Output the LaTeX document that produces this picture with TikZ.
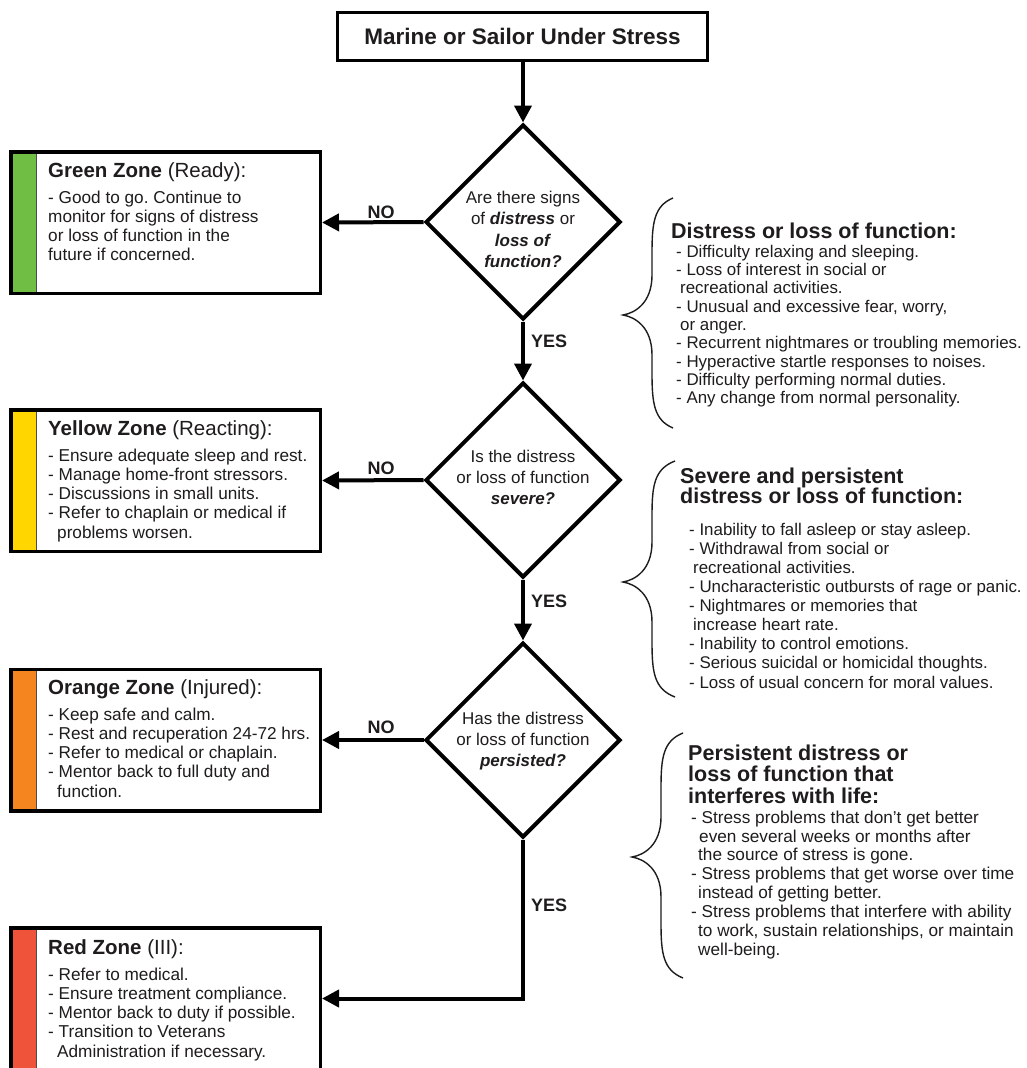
\documentclass[tikz,border=0pt]{standalone}
\usepackage{fontspec}
\setmainfont{Liberation Sans}
\usetikzlibrary{shapes.geometric,arrows.meta}
\frenchspacing
\definecolor{zgreen}{RGB}{112,190,68}
\definecolor{zyellow}{RGB}{255,214,0}
\definecolor{zorange}{RGB}{245,133,31}
\definecolor{zred}{RGB}{239,83,58}
\definecolor{ink}{RGB}{30,28,29}
\newcommand{\topstrut}[1]{\rule{0pt}{#1}}
\newcommand{\bi}[1]{\textbf{\textit{#1}}}
\newcommand{\tightlines}{\lineskiplimit=-30pt\lineskip=0pt\relax}
\newcommand{\curlybrace}[5]{%
  \draw[bracestyle] (#1,#2) .. controls ({#3+31},{#2+8}) and ({#3+29},{#2+25}) .. ({#3+29},{#2+55})
    -- ({#3+29},{#4-40}) .. controls ({#3+29},{#4-12}) and ({#3+12},{#4-2}) .. (#3,#4)
    .. controls ({#3+12},{#4+2}) and ({#3+29},{#4+12}) .. ({#3+29},{#4+40})
    -- ({#3+29},{#5-55}) .. controls ({#3+29},{#5-25}) and ({#3+31},{#5-8}) .. (#1,#5);}
\tikzset{
  flowline/.style={line width=4pt, draw=black},
  arr/.style={flowline, -{Triangle[length=17pt,width=17pt]}},
  startbox/.style={draw, line width=3pt, minimum width=370pt, minimum height=48pt, inner sep=0pt,
    font=\fontsize{22.5}{27}\selectfont\bfseries, text=ink},
  decision/.style={diamond, draw, line width=4pt, minimum width=195pt, minimum height=195pt, inner sep=0pt},
  dtext/.style={font=\fontsize{17}{#1}\selectfont\tightlines, align=center,
    inner sep=0pt, anchor=north, text=ink},
  zone/.style={draw, line width=3.5pt, minimum width=309.5pt, minimum height=141.5pt, inner sep=0pt,
    path picture={\fill[#1] (path picture bounding box.north west) rectangle ([xshift=25.5pt]path picture bounding box.south west);
      \draw[line width=0.8pt, black!70] ([xshift=25.5pt]path picture bounding box.north west) -- ([xshift=25.5pt]path picture bounding box.south west);}},
  ztitle/.style={font=\fontsize{20.5}{24}\selectfont, inner sep=0pt, anchor=base west, text=ink},
  body/.style={font=\fontsize{17.2}{#1}\selectfont\tightlines, align=left,
    inner sep=0pt, anchor=north west, text=ink},
  rbody/.style={font=\fontsize{16.9}{#1}\selectfont\tightlines, align=left,
    inner sep=0pt, anchor=north west, text=ink},
  rtitle/.style={font=\fontsize{21.5}{#1}\selectfont\bfseries\tightlines, align=left,
    inner sep=0pt, anchor=north west, text=ink},
  lbl/.style={font=\fontsize{18}{20}\selectfont\bfseries, inner sep=0pt, text=ink},
  bracestyle/.style={line width=1.4pt, draw=ink},
}
\begin{document}
\begin{tikzpicture}[x=1pt, y=-1pt]
\useasboundingbox (0,0) rectangle (1026,1068);
\clip (0,0) rectangle (1026,1068);
\fill[white] (0,0) rectangle (1026,1068);

% main flow
\node[startbox] (start) at (522.5,36.5) {Marine or Sailor Under Stress};
\node[decision] (d1) at (523,222) {};
\node[decision] (d2) at (523,480) {};
\node[decision] (d3) at (523,740) {};

\node[dtext=21.5] (d1t) at (523,189) {\topstrut{14pt}Are there signs\\of \bi{distress} or\\\bi{loss of}\\\bi{function?}};
\node[dtext=21] (d2t) at (523,448) {\topstrut{14pt}Is the distress\\or loss of function\\\bi{severe?}};
\node[dtext=21] (d3t) at (523,710) {\topstrut{14pt}Has the distress\\or loss of function\\\bi{persisted?}};

% zone boxes
\node[zone=zgreen] (green) at (165.5,222.5) {};
\node[zone=zyellow] (yellow) at (165.5,480.5) {};
\node[zone=zorange] (orange) at (165.5,740) {};
\node[zone=zred] (red) at (165.5,998.5) {};

\node[ztitle] (greent) at (48,177) {\textbf{Green Zone} (Ready):};
\node[ztitle] (yellowt) at (48,435) {\textbf{Yellow Zone} (Reacting):};
\node[ztitle] (oranget) at (48,694) {\textbf{Orange Zone} (Injured):};
\node[ztitle] (redt) at (48,954) {\textbf{Red Zone} (III):};

\node[body=19.2] (greenb) at (48,189) {\topstrut{14pt}- Good to go. Continue to\\monitor for signs of distress\\or loss of function in the\\future if concerned.};
\node[body=19.2] (yellowb) at (48,447) {\topstrut{14pt}- Ensure adequate sleep and rest.\\- Manage home-front stressors.\\- Discussions in small units.\\- Refer to chaplain or medical if\\\hspace*{9pt}problems worsen.};
\node[body=19.2] (orangeb) at (48,706) {\topstrut{14pt}- Keep safe and calm.\\- Rest and recuperation 24-72 hrs.\\- Refer to medical or chaplain.\\- Mentor back to full duty and\\\hspace*{9pt}function.};
\node[body=19.2] (redb) at (48,966) {\topstrut{14pt}- Refer to medical.\\- Ensure treatment compliance.\\- Mentor back to duty if possible.\\- Transition to Veterans\\\hspace*{9pt}Administration if necessary.};

% connectors
\draw[arr] (d1.north |- start.south) -- (d1.north);
\draw[arr] (d1.west) -- (green.east);
\draw[arr] (d1.south) -- (d2.north);
\draw[arr] (d2.west) -- (yellow.east);
\draw[arr] (d2.south) -- (d3.north);
\draw[arr] (d3.west) -- (orange.east);
\draw[arr] (d3.south) |- (red.east);

\node[lbl] (no1) at (381,212) {NO};
\node[lbl] (no2) at (381,468) {NO};
\node[lbl] (no3) at (381,727) {NO};
\node[lbl,anchor=west] (yes1) at (531,341) {YES};
\node[lbl,anchor=west] (yes2) at (531,601) {YES};
\node[lbl,anchor=west] (yes3) at (531,905) {YES};

% right side notes
\curlybrace{673}{198}{623}{315}{428}
\curlybrace{675}{461}{623}{582}{697}
\curlybrace{683}{733}{632}{857}{978}

\node[ztitle,font=\fontsize{21.5}{24}\selectfont\bfseries] (r1t) at (671,238) {Distress or loss of function:};
\node[rbody=18.3] (r1b) at (676,243) {\topstrut{14pt}- Difficulty relaxing and sleeping.\\- Loss of interest in social or\\\hspace*{4pt}recreational activities.\\- Unusual and excessive fear, worry,\\\hspace*{4pt}or anger.\\- Recurrent nightmares or troubling memories.\\- Hyperactive startle responses to noises.\\- Difficulty performing normal duties.\\- Any change from normal personality.};

\node[rtitle=20.5] (r2t) at (680,466) {\topstrut{17pt}Severe and persistent\\distress or loss of function:};
\node[rbody=19.1] (r2b) at (689,521) {\topstrut{14pt}- Inability to fall asleep or stay asleep.\\- Withdrawal from social or\\\hspace*{4pt}recreational activities.\\- Uncharacteristic outbursts of rage or panic.\\- Nightmares or memories that\\\hspace*{4pt}increase heart rate.\\- Inability to control emotions.\\- Serious suicidal or homicidal thoughts.\\- Loss of usual concern for moral values.};

\node[rtitle=21.5] (r3t) at (688,743) {\topstrut{17pt}Persistent distress or\\loss of function that\\interferes with life:};
\node[body=18.86] (r3b) at (691,809) {\topstrut{14pt}- Stress problems that don’t get better\\\hspace*{8pt}even several weeks or months after\\\hspace*{7pt}the source of stress is gone.\\- Stress problems that get worse over time\\\hspace*{7pt}instead of getting better.\\- Stress problems that interfere with ability\\\hspace*{7pt}to work, sustain relationships, or maintain\\\hspace*{7pt}well-being.};
\end{tikzpicture}
\end{document}
